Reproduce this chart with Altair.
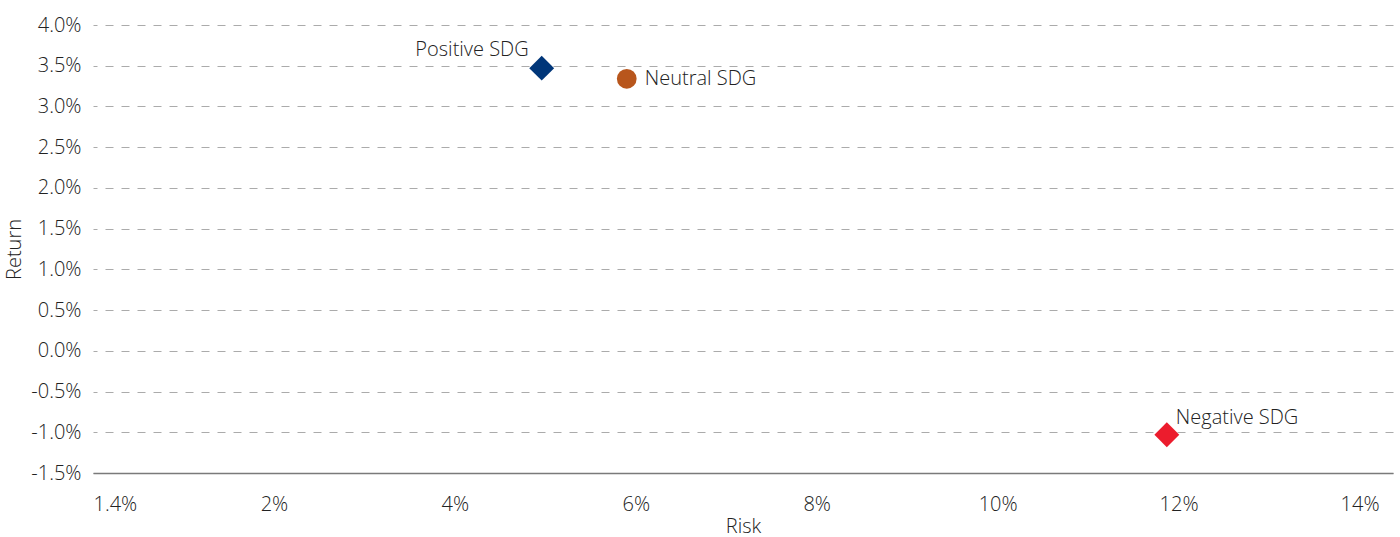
import altair as alt
import pandas as pd

names = ["Positive SDG", "Neutral SDG", "Negative SDG"]
risk = [4.96, 5.90, 11.87]
ret = [3.47, 3.34, -1.03]
shapes = ["diamond", "circle", "diamond"]
colors = ["#003679", "#B8561C", "#EC1C2D"]
x_ticks = [0, 2, 4, 6, 8, 10, 12, 14]
y_ticks = [-1.5, -1.0, -0.5, 0.0, 0.5, 1.0, 1.5, 2.0, 2.5, 3.0, 3.5, 4.0]

df = pd.DataFrame({"name": names, "risk": risk, "ret": ret, "shape": shapes})

FONT = "Open Sans"
FW = 300
FS = 20
TXT = "#222222"

x_enc = alt.X("risk:Q", title="Risk",
              scale=alt.Scale(domain=[0, 14.37], nice=False, zero=False),
              axis=alt.Axis(values=x_ticks, grid=False, ticks=False,
                            labelExpr="datum.value == 0 ? '1.4%' : datum.value + '%'",
                            domainColor="#7a7a7a", domainWidth=1.5,
                            labelPadding=21, titlePadding=2,
                            labelFontSize=FS, titleFontSize=FS, titleFontWeight=FW, labelFontWeight=FW,
                            labelColor=TXT, titleColor=TXT, labelFont=FONT, titleFont=FONT))
y_enc = alt.Y("ret:Q", title="Return",
              scale=alt.Scale(domain=[-1.5, 4.0], nice=False, zero=False),
              axis=alt.Axis(values=y_ticks,
                            labelExpr="replace(format(datum.value, '.1f'), '\u2212', '-') + '%'",
                            grid=True, gridDash=[8, 8], gridDashOffset=4, gridColor="#ababab", gridWidth=1,
                            domain=False, ticks=False, labelPadding=12, titlePadding=6,
                            labelFontSize=FS, titleFontSize=FS, titleFontWeight=FW, labelFontWeight=FW,
                            labelColor=TXT, titleColor=TXT, labelFont=FONT, titleFont=FONT))

base = alt.Chart(df)

pts = base.mark_point(filled=True, opacity=1).encode(
    x=x_enc, y=y_enc,
    shape=alt.Shape("name:N", scale=alt.Scale(domain=names, range=shapes), legend=None),
    color=alt.Color("name:N", scale=alt.Scale(domain=names, range=colors), legend=None),
    size=alt.Size("shape:N", scale=alt.Scale(domain=["diamond", "circle"], range=[620, 390]), legend=None),
)

def lab(name, align, dx, dy):
    return base.transform_filter(alt.datum.name == name).mark_text(
        align=align, baseline="middle", dx=dx, dy=dy, font=FONT, fontSize=FS, fontWeight=FW, color=TXT
    ).encode(x="risk:Q", y="ret:Q", text="name:N")

chart = alt.layer(
    pts,
    lab("Positive SDG", "right", -13, -18),
    lab("Neutral SDG", "left", 18, 0),
    lab("Negative SDG", "left", 9, -17),
).properties(
    width=1300, height=448,
    autosize=alt.AutoSizeParams(type="none"),
    padding={"left": 93, "top": 25, "right": 7, "bottom": 64},
).configure_view(stroke=None)

chart.save("out.html", embed_options={"renderer": "svg", "actions": False})
